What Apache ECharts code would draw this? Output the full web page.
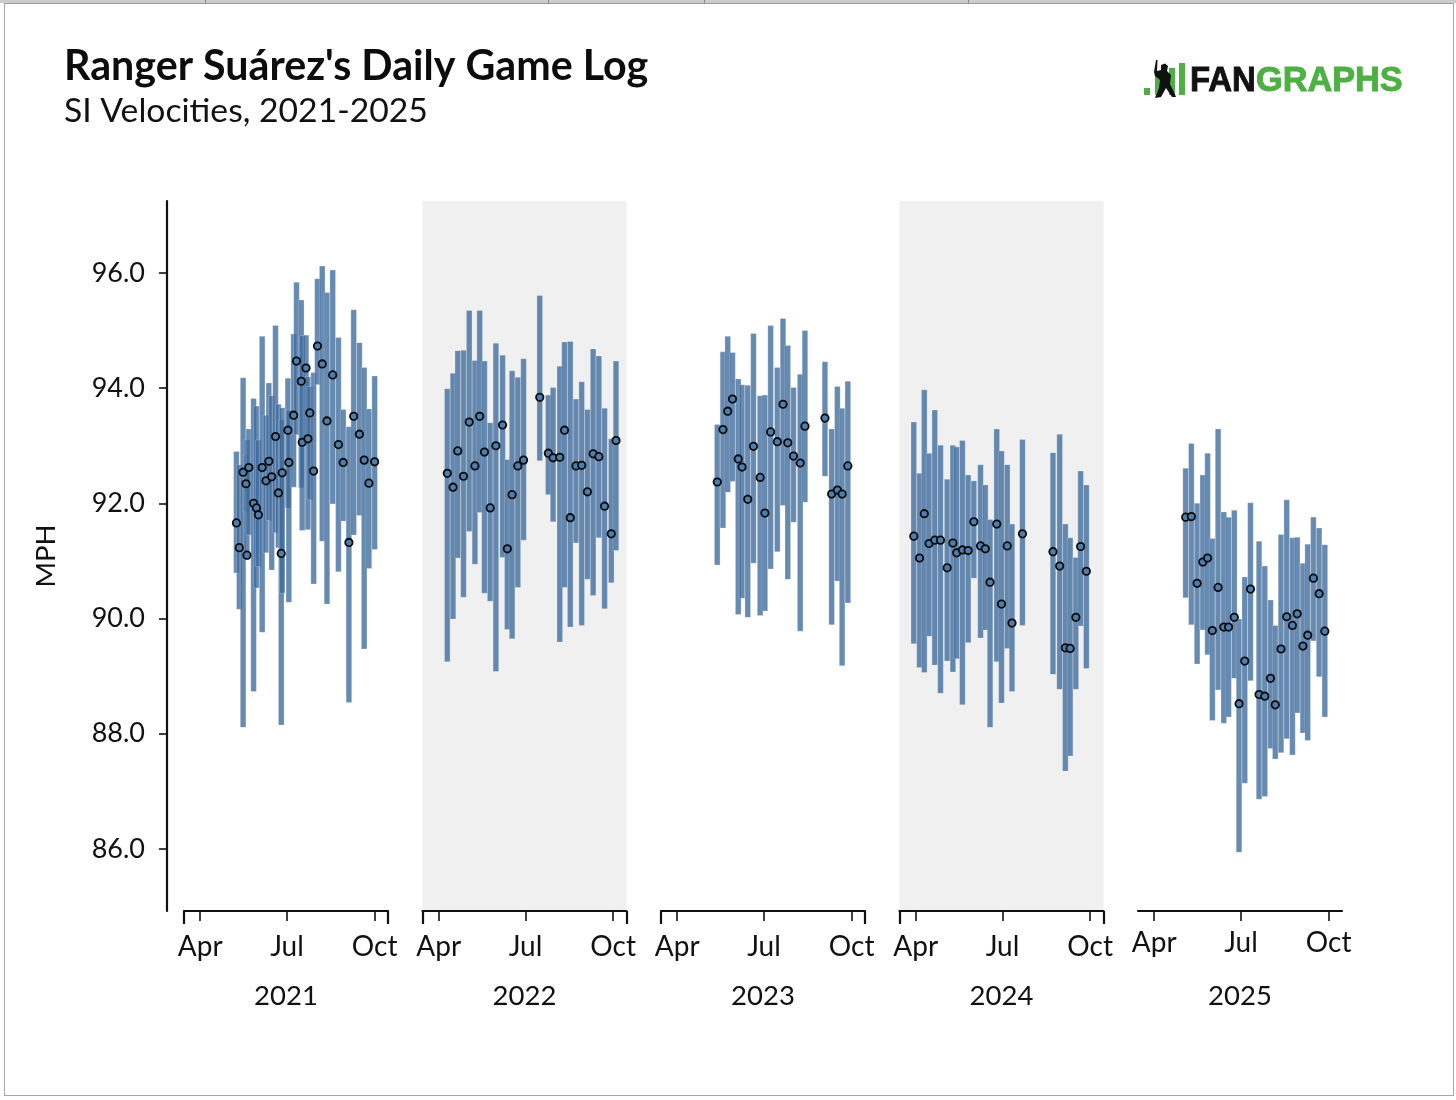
<!DOCTYPE html>
<html>
<head>
<meta charset="utf-8">
<style>html,body{margin:0;padding:0;background:#fff}#c{width:1456px;height:1100px}</style>
<script src="https://cdn.jsdelivr.net/npm/echarts@6/dist/echarts.min.js"></script>
</head>
<body>
<div id="c"></div>
<script>
const years = ['2021','2022','2023','2024','2025'];
const monthLabels = {0:'Apr',91:'Jul',183:'Oct'};
const yTicks = [86,88,90,92,94,96];

// Days since Apr 1; MPH high / game average / low
const days2021 = [38,41,45,48,49,51,56,59,61,65,69,72,75,79,82,85,86,92,93,98,101,106,107,111,113,115,119,123,128,133,139,145,150,156,161,167,172,177,183];
const high2021 = [92.90,92.67,94.18,92.84,93.10,93.29,93.82,93.69,93.10,94.90,93.53,94.09,93.87,95.09,93.72,93.45,93.66,94.17,93.62,94.94,95.84,95.53,94.91,94.92,94.20,94.03,94.27,95.90,96.12,95.66,96.05,94.88,93.63,93.33,95.36,94.79,94.36,93.64,94.21];
const avg2021 = [91.66,91.23,92.54,92.34,91.10,92.62,92.00,91.92,91.80,92.62,92.39,92.73,92.46,93.16,92.18,91.13,92.53,93.27,92.71,93.53,94.47,94.12,93.06,94.35,93.12,93.57,92.56,94.73,94.42,93.43,94.23,93.02,92.71,91.32,93.51,93.20,92.75,92.35,92.72];
const low2021 = [90.79,90.16,88.11,91.85,91.02,91.45,88.73,90.53,90.90,89.76,91.14,91.70,90.84,91.49,91.23,88.15,90.44,91.92,90.28,92.28,93.19,92.27,91.53,93.10,91.54,92.06,90.60,94.06,91.34,90.25,91.99,90.81,91.69,88.54,91.45,91.79,89.47,90.87,91.20];

const days2022 = [9,15,20,26,32,38,43,48,54,60,67,72,77,83,89,106,115,120,127,132,138,144,150,156,162,168,174,181,186];
const high2022 = [93.99,94.26,94.65,94.66,95.35,94.48,95.35,94.47,93.40,94.78,94.57,92.76,94.30,94.19,94.51,95.61,93.88,94.01,94.38,94.80,94.81,93.81,94.11,93.63,94.68,94.56,93.65,93.12,94.47];
const avg2022 = [92.52,92.28,92.91,92.47,93.41,92.65,93.51,92.89,91.92,93.00,93.36,91.21,92.15,92.65,92.75,93.84,92.87,92.79,92.80,93.27,91.75,92.65,92.66,92.20,92.86,92.81,91.95,91.47,93.09];
const low2022 = [89.25,89.99,91.05,90.37,91.51,90.94,91.84,90.44,90.30,89.08,91.06,89.81,89.65,90.54,91.36,92.74,92.15,91.68,89.59,90.54,89.85,91.31,89.88,90.68,90.40,91.40,90.17,90.62,91.18];

const days2023 = [42,48,53,58,64,68,74,80,87,92,98,105,111,116,122,129,134,155,162,168,173,179];
const high2023 = [93.37,94.63,94.90,94.62,94.16,94.06,94.05,94.95,93.87,93.88,95.09,94.36,95.21,94.74,94.01,94.24,95.00,94.46,93.29,94.03,93.65,94.12];
const avg2023 = [92.37,93.28,93.60,93.81,92.77,92.63,92.07,92.99,92.45,91.83,93.24,93.07,93.72,93.05,92.82,92.70,93.34,93.48,92.16,92.23,92.16,92.65];
const low2023 = [90.93,91.57,92.19,92.38,90.07,90.35,90.02,90.96,90.05,90.13,90.86,91.16,91.96,90.68,91.67,89.78,92.02,92.47,89.89,90.65,89.18,90.27];

const days2024 = [-2,4,9,14,20,26,33,39,43,49,55,61,68,73,78,85,90,96,101,112,144,151,157,162,168,173,179];
const high2024 = [93.41,92.52,93.97,92.87,93.62,93.01,92.42,93.01,92.98,93.09,92.49,92.39,92.67,92.32,91.72,93.29,92.91,92.67,91.64,93.11,92.88,93.20,91.64,91.40,91.06,92.56,92.32];
const avg2024 = [91.43,91.05,91.82,91.30,91.36,91.36,90.88,91.31,91.14,91.19,91.18,91.68,91.26,91.21,90.63,91.64,90.25,91.26,89.92,91.47,91.16,90.91,89.49,89.48,90.02,91.25,90.82];
const low2024 = [89.56,89.15,89.06,89.69,89.19,88.70,89.26,89.07,89.30,88.50,89.58,90.70,89.66,89.80,88.11,89.25,88.53,89.48,88.73,89.88,89.03,88.77,87.35,87.61,88.77,89.87,89.13];

const days2025 = [33,39,45,51,56,61,67,73,78,84,89,95,101,110,116,122,127,133,139,145,150,156,161,167,173,179];
const high2025 = [92.61,93.04,92.00,92.49,92.87,91.39,93.29,91.85,91.76,91.88,89.99,90.72,92.01,91.34,90.91,90.32,89.88,91.46,92.06,91.40,91.41,90.96,91.29,91.76,91.57,91.28];
const avg2025 = [91.76,91.77,90.61,90.98,91.05,89.79,90.54,89.85,89.85,90.02,88.52,89.26,90.51,88.68,88.65,88.96,88.50,89.47,90.03,89.88,90.08,89.52,89.71,90.70,90.43,89.78];
const low2025 = [90.36,89.89,89.21,89.80,89.37,88.23,88.76,88.18,88.29,88.96,85.94,87.14,88.92,86.86,86.91,87.74,87.56,87.67,87.91,87.63,88.36,88.01,87.88,89.61,88.99,88.29];

const seasons = [
  [days2021, high2021, avg2021, low2021],
  [days2022, high2022, avg2022, low2022],
  [days2023, high2023, avg2023, low2023],
  [days2024, high2024, avg2024, low2024],
  [days2025, high2025, avg2025, low2025]
];
const dayMin = -17, dayMax = 197, mphMin = 84.92, mphMax = 97.25;
const FONT = 'Lato';
const panelLeft = [184, 422.5, 661, 899.5, 1138];
const panelW = 204;

const grids = [], xAxes = [], yAxes = [], series = [];
years.forEach((yr, i) => {
  const banded = i === 1 || i === 3;
  grids.push({left: panelLeft[i], width: panelW, top: 201, height: 710,
    show: banded, backgroundColor: '#f0f0f0', borderWidth: 0});
  const last = i === 4;
  xAxes.push({
    type: 'value', gridIndex: i, min: dayMin, max: dayMax, position: 'bottom',
    splitLine: {show: false},
    axisLine: {show: true, onZero: false, lineStyle: {color: '#111', width: 2.2}},
    axisTick: {show: true, length: 10, customValues: [0, 91, 183], lineStyle: {color: '#111', width: 1.6}},
    axisLabel: {show: true, customValues: [0, 91, 183], margin: last ? 18 : 22,
      hideOverlap: false, showMinLabel: true, showMaxLabel: true,
      fontFamily: FONT, fontSize: 28, color: '#111',
      formatter: v => monthLabels[v] || ''},
    name: yr, nameLocation: 'middle', nameGap: 71,
    nameTextStyle: {fontFamily: FONT, fontSize: 27.5, color: '#111'}
  });
  xAxes.push({
    type: 'value', gridIndex: i, min: dayMin, max: dayMax, position: 'bottom',
    splitLine: {show: false},
    axisLine: {show: false, onZero: false},
    axisTick: {show: !last, length: 13, customValues: [dayMin, dayMax], lineStyle: {color: '#111', width: 2.2}},
    axisLabel: {show: false}
  });
  const first = i === 0;
  yAxes.push({
    type: 'value', gridIndex: i, min: mphMin, max: mphMax, position: 'left',
    offset: first ? 17 : 0,
    show: first,
    splitLine: {show: false},
    axisLine: {show: first, onZero: false, lineStyle: {color: '#111', width: 2.2}},
    axisTick: {show: first, length: 8, customValues: yTicks, lineStyle: {color: '#111', width: 1.6}},
    axisLabel: {show: first, customValues: yTicks, margin: 22, padding: [2, 0, 0, 0],
      fontFamily: FONT, fontSize: 27, color: '#111',
      formatter: v => v.toFixed(1)},
    name: first ? 'MPH' : '', nameLocation: 'middle', nameGap: 107,
    nameRotate: 90,
    nameTextStyle: {fontFamily: FONT, fontSize: 27.5, color: '#111'}
  });
  const [d, hi, av, lo] = seasons[i];
  series.push({
    type: 'custom', xAxisIndex: i * 2, yAxisIndex: i, clip: false, silent: true,
    encode: {x: 0, y: [1, 2]},
    data: d.map((dv, k) => [dv, hi[k], lo[k]]),
    renderItem: (params, api) => {
      const t = api.coord([api.value(0), api.value(1)]);
      const b = api.coord([api.value(0), api.value(2)]);
      return {type: 'rect', shape: {x: t[0] - 2.8, y: t[1], width: 5.6, height: b[1] - t[1]},
        style: {fill: 'rgba(60,105,155,0.78)', stroke: 'rgba(255,255,255,0.3)', lineWidth: 0.8}};
    },
    z: 2
  });
  series.push({
    type: 'scatter', xAxisIndex: i * 2, yAxisIndex: i, clip: false, silent: true,
    data: d.map((dv, k) => [dv, av[k]]),
    symbol: 'circle', symbolSize: 7.4,
    itemStyle: {color: '#4f7dac', borderColor: '#0a0a0a', borderWidth: 1.8, opacity: 1},
    z: 3
  });
});

const batter = [[1156,60],[1157.5,60],[1157,71],[1161,70],[1161,65],[1165,63.5],[1168,66],[1167,71],[1171,75],[1170,84],[1173,90],[1176,97],[1172,97],[1166,88],[1161,97],[1155,98],[1159,88],[1160,80],[1155,76],[1154,72]];
const logoGreen = '#4cb043';
const graphic = [
  {type: 'rect', silent: true, z: -5, shape: {x: 0, y: 0, width: 1456, height: 3}, style: {fill: '#cccccc'}},
  {type: 'rect', silent: true, z: -4, shape: {x: 4, y: 3, width: 1449, height: 1}, style: {fill: '#9a9a9a'}},
  {type: 'rect', silent: true, z: -4, shape: {x: 4, y: 3, width: 1, height: 1093}, style: {fill: '#a8a8a8'}},
  {type: 'rect', silent: true, z: -4, shape: {x: 1453, y: 3, width: 1, height: 1093}, style: {fill: '#a8a8a8'}},
  {type: 'rect', silent: true, z: -4, shape: {x: 4, y: 1095, width: 1450, height: 1}, style: {fill: '#a8a8a8'}},
  ...[205, 548, 704, 968].map(x => ({type: 'rect', silent: true, z: -3, shape: {x, y: 0, width: 1, height: 3}, style: {fill: '#888'}})),
  {type: 'rect', silent: true, shape: {x: 1144, y: 88, width: 6, height: 7}, style: {fill: logoGreen}},
  {type: 'rect', silent: true, shape: {x: 1155, y: 76, width: 5, height: 19}, style: {fill: logoGreen}},
  {type: 'rect', silent: true, shape: {x: 1169, y: 68, width: 6, height: 27}, style: {fill: logoGreen}},
  {type: 'rect', silent: true, shape: {x: 1179, y: 63, width: 6, height: 32}, style: {fill: logoGreen}},
  {type: 'polygon', silent: true, z: 5, shape: {points: batter}, style: {fill: '#111'}},
  {type: 'text', silent: true, x: 1190, y: 81, scaleX: 0.94, style: {text: 'FAN', fontFamily: 'Liberation Sans', fontWeight: 'bold', fontSize: 35, fill: '#111', stroke: '#111', lineWidth: 0.9, textBaseline: 'middle', textVerticalAlign: 'middle'}},
  {type: 'text', silent: true, x: 1256, y: 81, scaleX: 0.98, style: {text: 'GRAPHS', fontFamily: 'Liberation Sans', fontWeight: 'bold', fontSize: 35, fill: logoGreen, stroke: logoGreen, lineWidth: 0.9, textBaseline: 'middle', textVerticalAlign: 'middle'}}
];

const chart = echarts.init(document.getElementById('c'), null, {renderer: 'canvas', width: 1456, height: 1100});
chart.setOption({
  animation: false,
  backgroundColor: '#ffffff',
  title: [
    {text: "Ranger Suárez's Daily Game Log", left: 59, top: 41,
     textStyle: {fontFamily: FONT, fontWeight: 'bold', fontSize: 41.2, color: '#0c0c0c'}},
    {text: 'SI Velocities, 2021-2025', left: 59, top: 89,
     textStyle: {fontFamily: FONT, fontWeight: 'normal', fontSize: 33.7, color: '#111'}}
  ],
  grid: grids, xAxis: xAxes, yAxis: yAxes, series, graphic
});
</script>
</body>
</html>
